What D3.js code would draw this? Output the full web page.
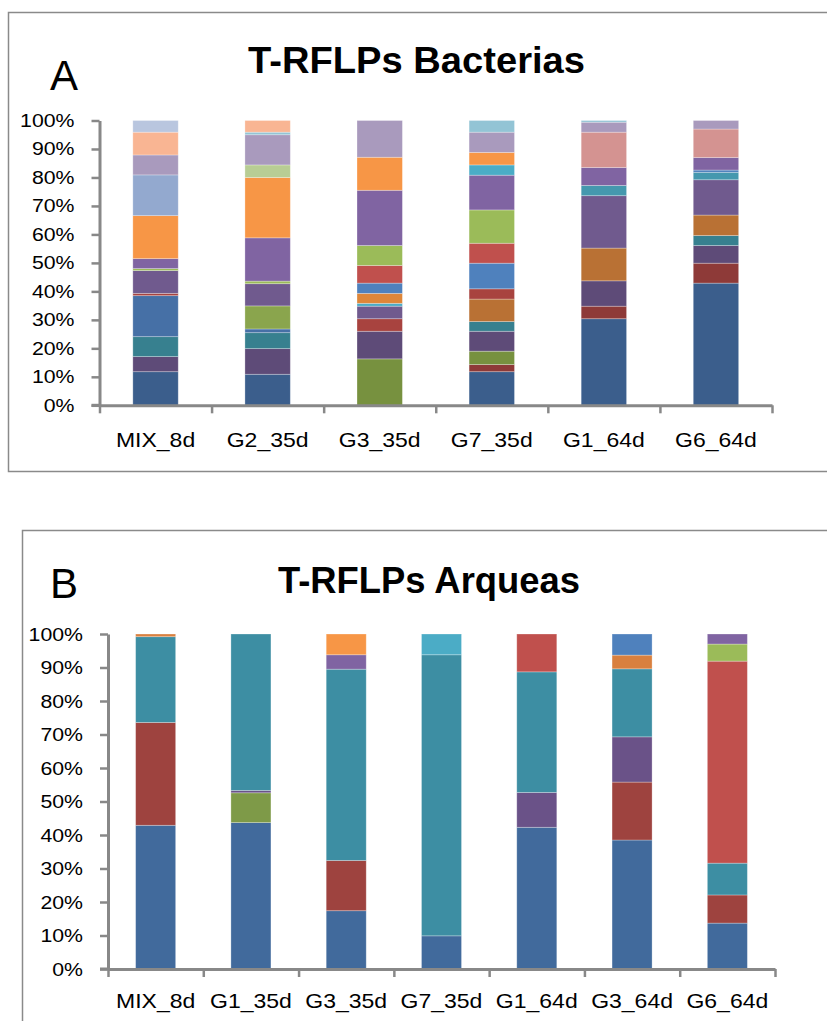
<!DOCTYPE html>
<html>
<head>
<meta charset="utf-8">
<script src="https://cdn.jsdelivr.net/npm/d3@7"></script>
<style>
  html, body { margin: 0; padding: 0; background: #ffffff; }
  svg { display: block; }
  text { font-family: "Liberation Sans", Arial, sans-serif; fill: #000; }
</style>
</head>
<body>
<svg id="fig" width="827" height="1021"></svg>
<script>
// ---- Panel A: bacterial T-RFLP profiles (segment sizes in %, bottom to top) ----
const bactCategories = ["MIX_8d", "G2_35d", "G3_35d", "G7_35d", "G1_64d", "G6_64d"];

const bactMix8d = [11.8, 5.3, 7.0, 14.4, 0.8, 8.0, 0.7, 3.5, 15.1, 14.3, 7.0, 8.0, 4.1];
const bactMix8dTRF = ["darkBlue", "darkPurple", "darkTeal", "midBlue", "midRed", "midPurple", "green", "purple", "orange", "lightBlue", "lavender", "peach", "paleBlue"];

const bactG2_35d = [10.9, 9.0, 5.6, 1.3, 8.1, 7.8, 0.9, 15.2, 21.2, 4.4, 10.6, 0.9, 4.1];
const bactG2_35dTRF = ["darkBlue", "darkPurple", "darkTeal", "midBlue", "oliveLight", "midPurple", "green", "purple", "orange", "lightGreen", "lavender", "lightAqua", "peach"];

const bactG3_35d = [16.3, 9.7, 4.4, 4.4, 1.0, 3.5, 3.6, 6.2, 7.0, 19.4, 11.6, 12.9];
const bactG3_35dTRF = ["olive", "darkPurple", "midRed", "midPurple", "aqua", "midOrange", "blue", "red", "green", "purple", "orange", "lavender"];

const bactG7_35d = [11.8, 2.5, 4.7, 7.0, 3.4, 7.9, 3.6, 9.0, 7.0, 11.7, 12.2, 3.6, 4.4, 7.1, 4.1];
const bactG7_35dTRF = ["darkBlue", "darkRed", "olive", "darkPurple", "darkTeal", "darkOrange", "midRed", "blue", "red", "green", "purple", "aqua", "orange", "lavender", "lightAqua"];

const bactG1_64d = [30.4, 4.4, 8.9, 11.5, 18.4, 3.6, 6.3, 12.4, 3.5, 0.6];
const bactG1_64dTRF = ["darkBlue", "darkRed", "darkPurple", "darkOrange", "midPurple", "midAqua", "purple", "pink", "lavender", "lightAqua"];

const bactG6_64d = [42.9, 7.0, 6.2, 3.5, 7.2, 12.4, 2.6, 0.8, 4.4, 10.0, 3.0];
const bactG6_64dTRF = ["darkBlue", "darkRed", "darkPurple", "darkTeal", "darkOrange", "midPurple", "midAqua", "blue", "purple", "pink", "lavender"];

// ---- Panel B: archaeal T-RFLP profiles ----
const archCategories = ["MIX_8d", "G1_35d", "G3_35d", "G7_35d", "G1_64d", "G3_64d", "G6_64d"];

const archMix8d = [42.9, 30.7, 25.6, 0.8];
const archMix8dTRF = ["aBlue", "aDarkRed", "aTeal", "aDarkOrange"];

const archG1_35d = [43.7, 8.9, 0.7, 46.7];
const archG1_35dTRF = ["aBlue", "aOlive", "aDarkPurple", "aTeal"];

const archG3_35d = [17.4, 15.0, 57.1, 4.3, 6.2];
const archG3_35dTRF = ["aBlue", "aDarkRed", "aTeal", "aPurple", "aOrange"];

const archG7_35d = [9.9, 83.9, 6.2];
const archG7_35dTRF = ["aBlue", "aTeal", "aAqua"];

const archG1_64d = [42.3, 10.4, 36.0, 11.3];
const archG1_64dTRF = ["aBlue", "aDarkPurple", "aTeal", "aRed"];

const archG3_64d = [38.5, 17.3, 13.5, 20.3, 4.1, 6.3];
const archG3_64dTRF = ["aBlue", "aDarkRed", "aDarkPurple", "aTeal", "aDarkOrange", "aLightBlue"];

const archG6_64d = [13.7, 8.4, 9.5, 60.3, 5.1, 3.0];
const archG6_64dTRF = ["aBlue", "aDarkRed", "aTeal", "aRed", "aGreen", "aPurple"];

const yTickValues = [0, 10, 20, 30, 40, 50, 60, 70, 80, 90, 100];

// Fill colours per terminal restriction fragment group
const trfColors = {
  darkBlue: "#3b5e8c", darkPurple: "#5e4b78", darkTeal: "#37808f", midBlue: "#4670a6",
  midRed: "#a8433f", midPurple: "#705a8e", green: "#9bbb59", purple: "#8064a2",
  orange: "#f79646", lightBlue: "#93a9cf", lavender: "#a99abd", peach: "#f9b593",
  paleBlue: "#b9c6df", olive: "#77913f", oliveLight: "#8aa54d", lightGreen: "#b8cd94",
  lightAqua: "#93c4d5", midOrange: "#de8639", darkOrange: "#b97134", aqua: "#4bacc6",
  midAqua: "#4598ae", blue: "#4f81bd", red: "#c0504d", darkRed: "#8e3a38", pink: "#d49391",
  aBlue: "#416a9c", aDarkRed: "#9e433f", aTeal: "#3d8ea3", aDarkOrange: "#d9803f",
  aOlive: "#7e9a48", aDarkPurple: "#6a5288", aPurple: "#8064a2", aOrange: "#f79646",
  aAqua: "#4bacc6", aRed: "#c0504d", aGreen: "#9bbb59", aLightBlue: "#4f81bd"
};

const svg = d3.select("#fig");
const axisColor = "#888888";
const stretch = 1.15; // horizontal widening of the label face

function stretchedText(g, x, y, str, size, anchor) {
  return g.append("text")
    .attr("transform", `translate(${x},${y}) scale(${stretch},1)`)
    .attr("text-anchor", anchor)
    .attr("font-size", size)
    .text(str);
}

function drawPanel(opts) {
  const g = svg.append("g");

  // frame around the chart area
  g.append("rect")
    .attr("x", opts.frame[0]).attr("y", opts.frame[1])
    .attr("width", opts.frame[2]).attr("height", opts.frame[3])
    .attr("fill", "none").attr("stroke", "#8a8a8a").attr("stroke-width", 1.5);

  // panel letter and title
  g.append("text").attr("x", opts.letterPos[0]).attr("y", opts.letterPos[1])
    .attr("font-size", 42).text(opts.letter);
  g.append("text").attr("x", opts.titlePos[0]).attr("y", opts.titlePos[1])
    .attr("font-size", 37).attr("font-weight", "bold")
    .attr("textLength", opts.titleWidth).attr("lengthAdjust", "spacingAndGlyphs")
    .text(opts.title);

  const y = d3.scaleLinear().domain([0, 100]).range([opts.y0, opts.y1]);
  const n = opts.categories.length;
  const pad = opts.barPad;
  const x = d3.scaleBand().domain(opts.categories)
    .range([opts.x0, opts.x1]).paddingInner(pad).paddingOuter(pad / 2);
  const xEdges = d3.scaleLinear().domain([0, n]).range([opts.x0, opts.x1]);

  // stacked bars
  opts.values.forEach((vals, i) => {
    const cat = opts.categories[i];
    const tops = d3.cumsum(vals);
    const segs = vals.map((v, j) => ({
      lo: tops[j] - v, hi: tops[j], key: opts.keys[i][j]
    }));
    g.append("g").selectAll("rect").data(segs).join("rect")
      .attr("x", x(cat))
      .attr("width", x.bandwidth())
      .attr("y", d => y(Math.min(d.hi, 100)))
      .attr("height", d => y(d.lo) - y(Math.min(d.hi, 100)))
      .attr("fill", d => trfColors[d.key])
      .attr("stroke", "rgba(255,255,255,0.35)")
      .attr("stroke-width", 0.8);
  });

  // y axis
  const yAxis = g.append("g").attr("transform", `translate(${opts.x0},0)`)
    .call(d3.axisLeft(y).tickValues(yTickValues).tickSize(8).tickSizeOuter(0).tickFormat(""));
  yAxis.select(".domain").attr("stroke", axisColor).attr("stroke-width", 3);
  yAxis.selectAll(".tick line").attr("stroke", axisColor).attr("stroke-width", 2.5);
  yTickValues.forEach(v => {
    stretchedText(g, opts.x0 - 25, y(v) + 6.5, v + "%", 18.5, "end");
  });

  // x axis with ticks on category boundaries
  const xAxis = g.append("g").attr("transform", `translate(0,${opts.y0})`)
    .call(d3.axisBottom(xEdges).tickValues(d3.range(0, n + 1)).tickSize(8).tickSizeOuter(0).tickFormat(""));
  xAxis.select(".domain").attr("stroke", axisColor).attr("stroke-width", 3);
  xAxis.selectAll(".tick line").attr("stroke", axisColor).attr("stroke-width", 2.5);
  // short stub continuing the axis line left of the y axis
  g.append("line").attr("x1", opts.x0 - 8).attr("x2", opts.x0)
    .attr("y1", opts.y0).attr("y2", opts.y0)
    .attr("stroke", axisColor).attr("stroke-width", 3);

  opts.categories.forEach(c => {
    stretchedText(g, x(c) + x.bandwidth() / 2, opts.labelY, c, 20, "middle");
  });
}

drawPanel({
  frame: [8.5, 12.5, 900, 459],
  letter: "A", letterPos: [50, 90],
  title: "T-RFLPs Bacterias", titlePos: [248, 73], titleWidth: 337,
  categories: bactCategories,
  values: [bactMix8d, bactG2_35d, bactG3_35d, bactG7_35d, bactG1_64d, bactG6_64d],
  keys: [bactMix8dTRF, bactG2_35dTRF, bactG3_35dTRF, bactG7_35dTRF, bactG1_64dTRF, bactG6_64dTRF],
  x0: 99.5, x1: 772, y0: 405.3, y1: 120.5, barPad: 0.595, labelY: 447
});

drawPanel({
  frame: [22.5, 530.5, 900, 600],
  letter: "B", letterPos: [50, 598],
  title: "T-RFLPs Arqueas", titlePos: [278, 593], titleWidth: 302,
  categories: archCategories,
  values: [archMix8d, archG1_35d, archG3_35d, archG7_35d, archG1_64d, archG3_64d, archG6_64d],
  keys: [archMix8dTRF, archG1_35dTRF, archG3_35dTRF, archG7_35dTRF, archG1_64dTRF, archG3_64dTRF, archG6_64dTRF],
  x0: 108, x1: 775, y0: 969, y1: 634, barPad: 0.58, labelY: 1008
});
</script>
</body>
</html>
